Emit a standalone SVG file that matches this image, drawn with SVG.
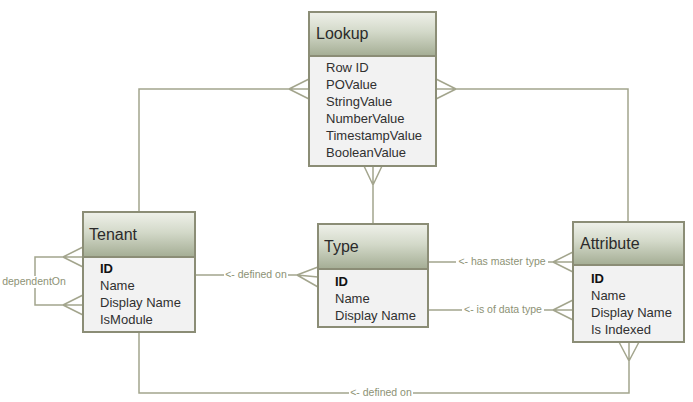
<svg xmlns="http://www.w3.org/2000/svg" width="693" height="402" viewBox="0 0 693 402">
<defs>
<linearGradient id="hdr" x1="0" y1="0" x2="0" y2="1">
<stop offset="0" stop-color="#eff1ea"/>
<stop offset="0.45" stop-color="#d3d9c9"/>
<stop offset="1" stop-color="#a4ad94"/>
</linearGradient>
<style>
.box{fill:#f2f2f2;stroke:#8b8d76;stroke-width:2}
.hd{fill:url(#hdr);stroke:#8b8d76;stroke-width:2}
.title{font-family:"Liberation Sans",Arial,sans-serif;font-size:16px;fill:#2b2b2b}
.row{font-family:"Liberation Sans",Arial,sans-serif;font-size:13px;fill:#303030}
.b{font-weight:bold;fill:#111}
.ln{fill:none;stroke:#a3a58d;stroke-width:1.5}
.lbl{font-family:"Liberation Sans",Arial,sans-serif;font-size:10.5px;fill:#8d9275;text-anchor:middle}
.bg{fill:#ffffff}
</style>
</defs>
<rect width="693" height="402" fill="#ffffff"/>
<g id="connectors">
<path class="ln" d="M139 212 V89 H289 M289 89 L309 79 M289 89 L309 89 M289 89 L309 99"/>
<path class="ln" d="M628 222 V89 H456 M456 89 L436 79 M456 89 L436 89 M456 89 L436 99"/>
<path class="ln" d="M373 224 V185 M373 185 L364 166 M373 185 L373 166 M373 185 L382 166"/>
<path class="ln" d="M195 275 H297 M297 275 L318 267 M297 275 L318 277 M297 275 L318 287"/>
<rect class="bg" x="224" y="268" width="64" height="12"/>
<text class="lbl" x="256" y="278">&lt;- defined on</text>
<path class="ln" d="M428 262 H553 M553 262 L573 252 M553 262 L573 262 M553 262 L573 272"/>
<rect class="bg" x="456" y="255" width="92" height="12"/>
<text class="lbl" x="502" y="265">&lt;- has master type</text>
<path class="ln" d="M428 310 H553 M553 310 L573 300 M553 310 L573 310 M553 310 L573 320"/>
<rect class="bg" x="462" y="303" width="82" height="12"/>
<text class="lbl" x="503" y="313">&lt;- is of data type</text>
<path class="ln" d="M139 332 V393 H629 V361 M629 361 L619 342 M629 361 L629 342 M629 361 L639 342"/>
<rect class="bg" x="349" y="387" width="64" height="12"/>
<text class="lbl" x="381" y="396">&lt;- defined on</text>
<path class="ln" d="M63 257 H35 V305 H63 M63 257 L83 247 M63 257 L83 257 M63 257 L83 267 M63 305 L83 295 M63 305 L83 305 M63 305 L83 315"/>
<rect class="bg" x="2" y="276" width="65" height="12"/>
<text class="lbl" x="34" y="285">dependentOn</text>
</g>
<g id="lookup">
<rect class="box" x="309" y="12" width="127" height="154"/>
<rect class="hd" x="309" y="12" width="127" height="44"/>
<text class="title" x="316" y="39">Lookup</text>
<text class="row" x="326" y="72">Row ID</text>
<text class="row" x="326" y="89">POValue</text>
<text class="row" x="326" y="106">StringValue</text>
<text class="row" x="326" y="123">NumberValue</text>
<text class="row" x="326" y="140">TimestampValue</text>
<text class="row" x="326" y="157">BooleanValue</text>
</g>
<g id="tenant">
<rect class="box" x="83" y="212" width="112" height="120"/>
<rect class="hd" x="83" y="212" width="112" height="45"/>
<text class="title" x="89" y="240">Tenant</text>
<text class="row b" x="100" y="273">ID</text>
<text class="row" x="100" y="290">Name</text>
<text class="row" x="100" y="307">Display Name</text>
<text class="row" x="100" y="324">IsModule</text>
</g>
<g id="type">
<rect class="box" x="318" y="224" width="110" height="103"/>
<rect class="hd" x="318" y="224" width="110" height="45"/>
<text class="title" x="324" y="252">Type</text>
<text class="row b" x="335" y="286">ID</text>
<text class="row" x="335" y="303">Name</text>
<text class="row" x="335" y="320">Display Name</text>
</g>
<g id="attribute">
<rect class="box" x="573" y="222" width="111" height="120"/>
<rect class="hd" x="573" y="222" width="111" height="43"/>
<text class="title" x="580" y="249">Attribute</text>
<text class="row b" x="591" y="283">ID</text>
<text class="row" x="591" y="300">Name</text>
<text class="row" x="591" y="317">Display Name</text>
<text class="row" x="591" y="334">Is Indexed</text>
</g>
</svg>
